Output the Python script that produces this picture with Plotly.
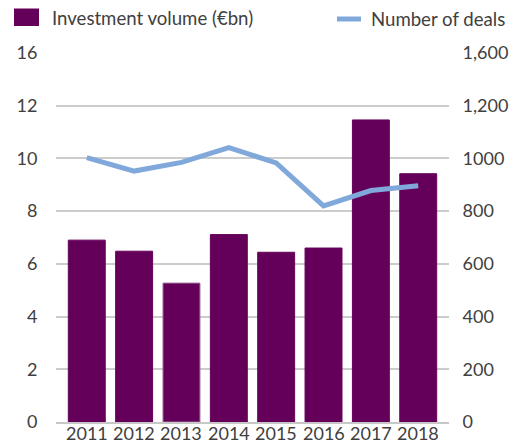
import plotly.graph_objects as go

# Data
years = ["2011", "2012", "2013", "2014", "2015", "2016", "2017", "2018"]
investment_bn = [6.9, 6.48, 5.27, 7.11, 6.44, 6.6, 11.46, 9.42]
deals = [1003, 952, 985, 1041, 983, 820, 878, 896]

left_ticks = [0, 2, 4, 6, 8, 10, 12, 14]
left_labels = ["0", "2", "4", "6", "8", "10", "12", "16"]
right_ticks = [0, 200, 400, 600, 800, 1000, 1200, 1400]
right_labels = ["0", "200", "400", "600", "800", "1000", "1,200", "1,600"]

BAR = "#65005A"
LINE = "#80A8DA"
TEXT = "#404040"
GRID = "#cccccc"
CLEAR = "rgba(0,0,0,0)"
FONT = "Lato"
FS = 18

W, H = 525, 442
L, R, T, B = 56, 76, 53, 20
PW, PH = W - L - R, H - T - B


def px_x(x):
    return (x - L) / PW


def px_y(y):
    return (H - B - y) / PH


fig = go.Figure()

fig.add_trace(go.Bar(
    x=years, y=investment_bn, name="Investment volume (€bn)",
    marker=dict(color=BAR,
                line=dict(color=[BAR, BAR, "#9a6a93", BAR, BAR, BAR, BAR, BAR], width=1)),
    yaxis="y", showlegend=False,
))
fig.add_trace(go.Scatter(
    x=years, y=deals, name="Number of deals", mode="lines",
    line=dict(color=LINE, width=5), yaxis="y2", showlegend=False,
))

# Legend drawn as shapes + text above the plot area
shapes = [
    dict(type="rect", xref="paper", yref="paper",
         x0=px_x(14), x1=px_x(39), y0=px_y(26), y1=px_y(8.5),
         fillcolor=BAR, line=dict(width=0)),
    dict(type="line", xref="paper", yref="paper",
         x0=px_x(337), x1=px_x(361), y0=px_y(19), y1=px_y(19),
         line=dict(color=LINE, width=5)),
]
annotations = [
    dict(text="Investment volume (€bn)", xref="paper", yref="paper",
         x=px_x(50), y=px_y(18), xanchor="left", yanchor="middle",
         showarrow=False, font=dict(family=FONT, size=18.6, color=TEXT)),
    dict(text="Number of deals", xref="paper", yref="paper",
         x=px_x(369), y=px_y(19), xanchor="left", yanchor="middle",
         showarrow=False, font=dict(family=FONT, size=18.6, color=TEXT)),
]
# Category labels sit tight under the baseline (x given as category index)
for i, yr in enumerate(years):
    annotations.append(dict(
        text=yr, x=i, xref="x", y=px_y(432.5), yref="paper",
        xanchor="center", yanchor="middle", showarrow=False,
        font=dict(family=FONT, size=FS, color=TEXT),
    ))

fig.update_layout(
    width=W, height=H,
    margin=dict(l=L, r=R, t=T, b=B, pad=0),
    paper_bgcolor="white", plot_bgcolor="white",
    font=dict(family=FONT, size=FS, color=TEXT),
    bargap=0.22,
    shapes=shapes, annotations=annotations,
    xaxis=dict(
        type="category", range=[-0.65, 7.65], showgrid=False, showline=True,
        linecolor="#c8c8c8", linewidth=2, automargin=False, ticks="",
        showticklabels=False,
    ),
    yaxis=dict(
        range=[0, 14], tickmode="array", tickvals=left_ticks, ticktext=left_labels,
        showgrid=True, gridcolor=GRID, gridwidth=1.5, zeroline=False,
        showline=False, automargin=False,
        ticks="outside", ticklen=14, tickcolor=CLEAR,
    ),
    yaxis2=dict(
        range=[0, 1400], tickmode="array", tickvals=right_ticks, ticktext=right_labels,
        overlaying="y", side="right", showgrid=False, zeroline=False,
        showline=False, automargin=False,
        ticks="outside", ticklen=9, tickcolor=CLEAR,
    ),
)

fig.write_html("out.html")
